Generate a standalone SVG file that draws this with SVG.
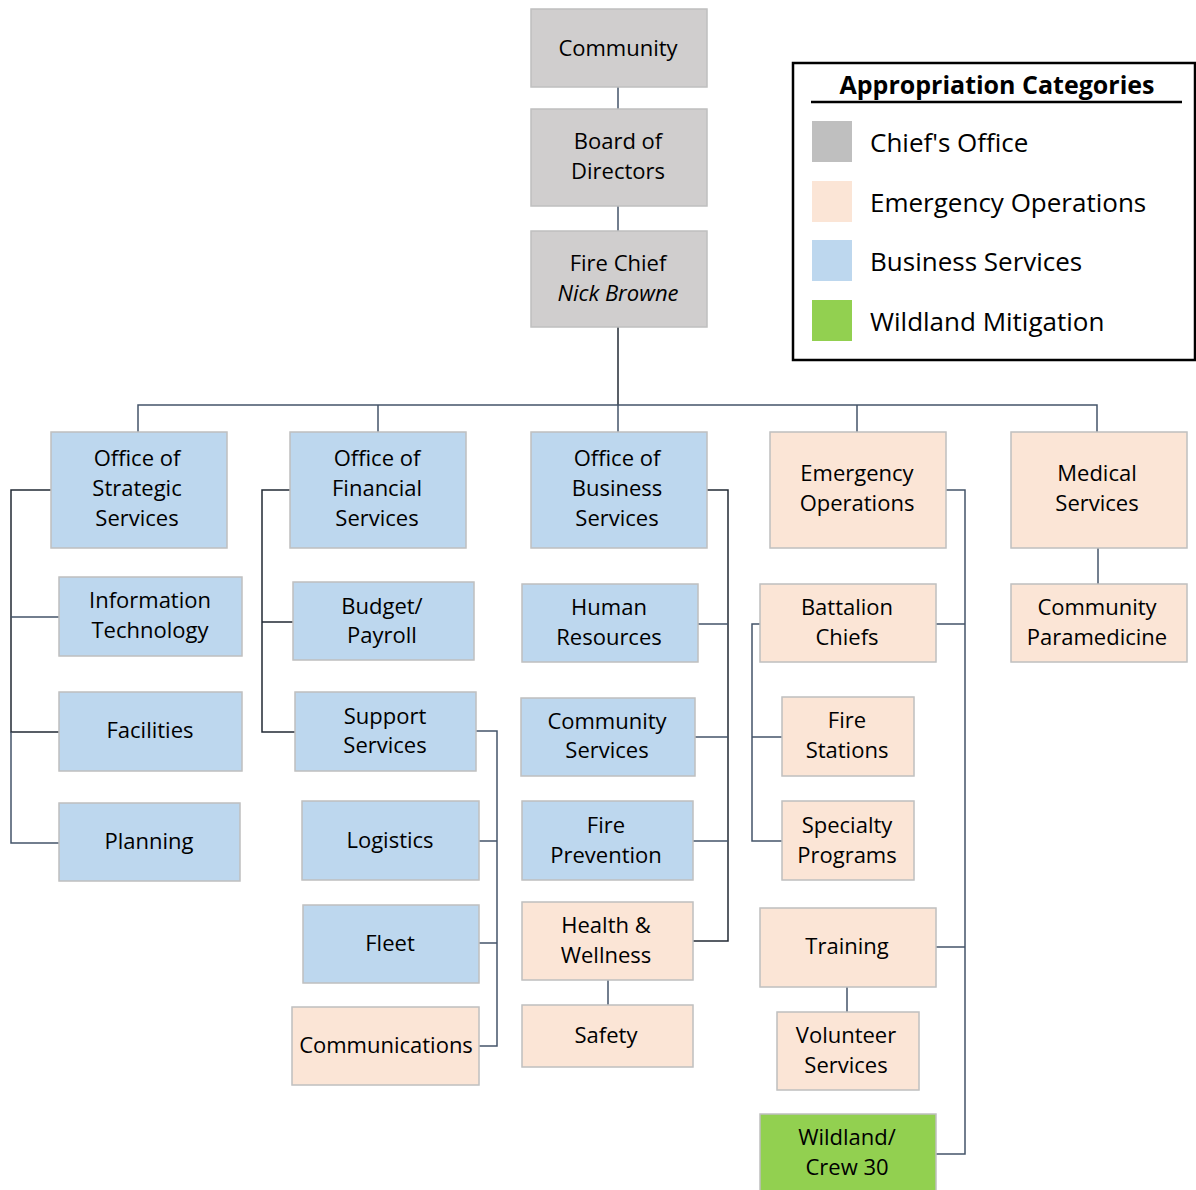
<svg xmlns="http://www.w3.org/2000/svg" width="1196" height="1190" viewBox="0 0 1196 1190">
<style>
rect.n{stroke:#bfbfbf;stroke-width:1.5}
.g{fill:#d0cece}
.b{fill:#bdd7ee}
.p{fill:#fbe5d6}
.w{fill:#92d050}
text{font-family:"Open Sans","Noto Sans",sans-serif;font-size:22px;fill:#000;text-anchor:middle}
.c{fill:none;stroke:#44546a;stroke-width:1.5}
.d{fill:none;stroke:#222a35;stroke-width:1.5}
.lg{font-size:26px;text-anchor:start}
.lt{font-size:25px;font-weight:bold}
</style>
<rect width="1196" height="1190" fill="#fff"/>
<g id="connectors">
<path class="c" d="M618 87V109M618 206V231"/>
<path class="d" d="M618 327V405"/>
<path class="c" d="M138 432V405H1097V432M378 405V432M618 405V432M857 405V432"/>
<path class="d" d="M51 490H11V732H59"/>
<path class="c" d="M11 617H59M11 732V843H59"/>
<path class="d" d="M290 490H262V732H295M262 622H293"/>
<path class="c" d="M476 731H497V1046H479M479 841H497M479 943H497"/>
<path class="d" d="M707 490H728V941H693"/>
<path class="c" d="M698 624H728M695 737H728M693 841H728M608 980V1005"/>
<path class="c" d="M946 490H965V1154H936M936 624H965M936 947H965M847 987V1012"/>
<path class="c" d="M760 624H752V841H782M752 737H782"/>
<path class="c" d="M1098 548V584"/>
</g>
<g id="community"><rect class="n g" x="531" y="9" width="176" height="78"/><text x="618" y="56">Community</text></g>
<g id="board"><rect class="n g" x="531" y="109" width="176" height="97"/><text x="618" y="149">Board of</text><text x="618" y="179">Directors</text></g>
<g id="chief"><rect class="n g" x="531" y="231" width="176" height="96"/><text x="618" y="271">Fire Chief</text><text x="618" y="301" font-style="italic">Nick Browne</text></g>
<g id="strategic"><rect class="n b" x="51" y="432" width="176" height="116"/><text x="137" y="466">Office of</text><text x="137" y="496">Strategic</text><text x="137" y="526">Services</text></g>
<g id="financial"><rect class="n b" x="290" y="432" width="176" height="116"/><text x="377" y="466">Office of</text><text x="377" y="496">Financial</text><text x="377" y="526">Services</text></g>
<g id="business"><rect class="n b" x="531" y="432" width="176" height="116"/><text x="617" y="466">Office of</text><text x="617" y="496">Business</text><text x="617" y="526">Services</text></g>
<g id="emergency"><rect class="n p" x="770" y="432" width="176" height="116"/><text x="857" y="481">Emergency</text><text x="857" y="511">Operations</text></g>
<g id="medical"><rect class="n p" x="1011" y="432" width="176" height="116"/><text x="1097" y="481">Medical</text><text x="1097" y="511">Services</text></g>
<g id="it"><rect class="n b" x="59" y="577" width="183" height="79"/><text x="150" y="608">Information</text><text x="150" y="638">Technology</text></g>
<g id="facilities"><rect class="n b" x="59" y="692" width="183" height="79"/><text x="150" y="738">Facilities</text></g>
<g id="planning"><rect class="n b" x="59" y="803" width="181" height="78"/><text x="149" y="849">Planning</text></g>
<g id="budget"><rect class="n b" x="293" y="582" width="181" height="78"/><text x="382" y="614">Budget/</text><text x="382" y="643">Payroll</text></g>
<g id="support"><rect class="n b" x="295" y="692" width="181" height="79"/><text x="385" y="724">Support</text><text x="385" y="753">Services</text></g>
<g id="logistics"><rect class="n b" x="302" y="801" width="177" height="79"/><text x="390" y="848">Logistics</text></g>
<g id="fleet"><rect class="n b" x="303" y="905" width="176" height="78"/><text x="390" y="951">Fleet</text></g>
<g id="communications"><rect class="n p" x="292" y="1007" width="187" height="78"/><text x="386" y="1053">Communications</text></g>
<g id="hr"><rect class="n b" x="522" y="584" width="176" height="78"/><text x="609" y="615">Human</text><text x="609" y="645">Resources</text></g>
<g id="commsvc"><rect class="n b" x="521" y="698" width="174" height="78"/><text x="607" y="729">Community</text><text x="607" y="758">Services</text></g>
<g id="prevention"><rect class="n b" x="522" y="801" width="171" height="79"/><text x="606" y="833">Fire</text><text x="606" y="863">Prevention</text></g>
<g id="health"><rect class="n p" x="522" y="902" width="171" height="78"/><text x="606" y="933">Health &amp;</text><text x="606" y="963">Wellness</text></g>
<g id="safety"><rect class="n p" x="522" y="1005" width="171" height="62"/><text x="606" y="1043">Safety</text></g>
<g id="battalion"><rect class="n p" x="760" y="584" width="176" height="78"/><text x="847" y="615">Battalion</text><text x="847" y="645">Chiefs</text></g>
<g id="stations"><rect class="n p" x="782" y="697" width="132" height="79"/><text x="847" y="728">Fire</text><text x="847" y="758">Stations</text></g>
<g id="specialty"><rect class="n p" x="782" y="801" width="132" height="79"/><text x="847" y="833">Specialty</text><text x="847" y="863">Programs</text></g>
<g id="training"><rect class="n p" x="760" y="908" width="176" height="79"/><text x="847" y="954">Training</text></g>
<g id="volunteer"><rect class="n p" x="777" y="1012" width="142" height="78"/><text x="846" y="1043">Volunteer</text><text x="846" y="1073">Services</text></g>
<g id="wildland"><rect class="n w" x="760" y="1114" width="176" height="80"/><text x="847" y="1145">Wildland/</text><text x="847" y="1175">Crew 30</text></g>
<g id="paramedicine"><rect class="n p" x="1011" y="584" width="176" height="78"/><text x="1097" y="615">Community</text><text x="1097" y="645">Paramedicine</text></g>
<g id="legend">
<rect x="793" y="63" width="402" height="297" fill="#fff" stroke="#000" stroke-width="2.5"/>
<text class="lt" x="997" y="94">Appropriation Categories</text>
<line x1="811" y1="102" x2="1182" y2="102" stroke="#000" stroke-width="2.5"/>
<rect x="812" y="121" width="40" height="41" fill="#bfbfbf"/>
<rect x="812" y="181" width="40" height="41" fill="#fbe5d6"/>
<rect x="812" y="240" width="40" height="41" fill="#bdd7ee"/>
<rect x="812" y="300" width="40" height="41" fill="#92d050"/>
<text class="lg" x="870" y="152">Chief's Office</text>
<text class="lg" x="870" y="212">Emergency Operations</text>
<text class="lg" x="870" y="271">Business Services</text>
<text class="lg" x="870" y="331">Wildland Mitigation</text>
</g>
</svg>
